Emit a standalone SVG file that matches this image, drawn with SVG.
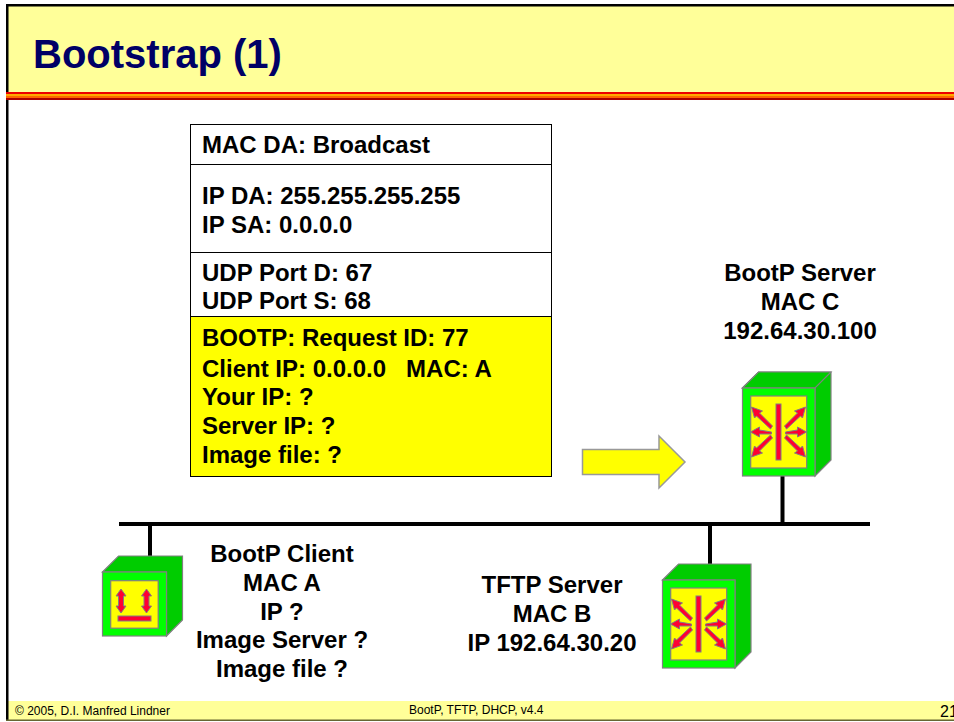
<svg xmlns="http://www.w3.org/2000/svg" width="954" height="722" viewBox="0 0 954 722">
<style>
text{font-family:"Liberation Sans",Arial,sans-serif}
.b{font-weight:bold;font-size:24px;fill:#000}
.m{text-anchor:middle}
.f{font-size:12px;fill:#000}
.s{stroke:#808080;stroke-width:1.2}
.w{fill:#00ff00}.t{fill:#00cc00}.i{fill:#ffff00}
.a{fill:#ff0033;stroke:#808080;stroke-width:1}
.c{stroke:#000;stroke-width:4;fill:none}
.r{fill:#fff;stroke:#000;stroke-width:1}
</style>
<defs>
<g id="burst">
<rect class="a" x="-2.5" y="-28" width="5" height="56"/>
<path id="arm" class="a" d="M7 0 L19 -2 L19 -5 L28 0 L19 5 L19 2 L7 2 Z"/>
<path class="a" d="M-7 0 L-19 -2 L-19 -5 L-28 0 L-19 5 L-19 2 L-7 2 Z"/>
<path class="a" d="M6 -6 L19 -19 L16 -21 L27 -25 L24 -14 L22 -16 L8 -3 Z"/>
<path class="a" d="M-6 -6 L-19 -19 L-16 -21 L-27 -25 L-24 -14 L-22 -16 L-8 -3 Z"/>
<path class="a" d="M6 6 L19 19 L16 21 L27 25 L24 14 L22 16 L8 3 Z"/>
<path class="a" d="M-6 6 L-19 19 L-16 21 L-27 25 L-24 14 L-22 16 L-8 3 Z"/>
</g>
</defs>
<rect width="954" height="722" fill="#fff"/>
<g id="slide-frame">
<rect x="6" y="5" width="948" height="88" fill="#ffff99"/>
<rect x="6" y="701" width="948" height="19" fill="#ffff99"/>
<rect x="6" y="4" width="948" height="2.5" fill="#000"/>
<rect x="6" y="4" width="2.5" height="716" fill="#000"/>
<rect x="6" y="719.5" width="948" height="1.5" fill="#666633"/>
<rect x="6" y="92" width="948" height="2" fill="#ee0000"/>
<rect x="6" y="94" width="948" height="2" fill="#ffaa00"/>
<rect x="6" y="96" width="948" height="2" fill="#ff6600"/>
<rect x="6" y="98" width="948" height="2" fill="#aa0000"/>
<text x="33" y="68" font-size="40" font-weight="bold" fill="#000066">Bootstrap (1)</text>
<text class="f" x="15" y="715">© 2005, D.I. Manfred Lindner</text>
<text class="f" x="409" y="714">BootP, TFTP, DHCP, v4.4</text>
<text x="940" y="717" font-size="16" fill="#000">21</text>
</g>
<g id="connectors">
<path class="c" d="M119 524H870"/>
<path class="c" d="M150 524V564"/>
<path class="c" d="M710 524V564"/>
<path class="c" d="M782.5 476V524"/>
</g>
<g id="frame-table">
<rect class="r" x="190.500" y="124.500" width="361" height="40"/>
<rect class="r" x="190.500" y="164.500" width="361" height="88"/>
<rect class="r" x="190.500" y="252.500" width="361" height="64"/>
<rect x="190.500" y="316.500" width="361" height="160" fill="#ffff00" stroke="#000"/>
<text class="b" x="202" y="153">MAC DA: Broadcast</text>
<text class="b" x="202" y="204">IP DA: 255.255.255.255</text>
<text class="b" x="202" y="233">IP SA: 0.0.0.0</text>
<text class="b" x="202" y="281">UDP Port D: 67</text>
<text class="b" x="202" y="309">UDP Port S: 68</text>
<text class="b" x="202" y="346">BOOTP: Request ID: 77</text>
<text class="b" x="202" y="377" xml:space="preserve">Client IP: 0.0.0.0   MAC: A</text>
<text class="b" x="202" y="405">Your IP: ?</text>
<text class="b" x="202" y="434">Server IP: ?</text>
<text class="b" x="202" y="463">Image file: ?</text>
</g>
<g id="direction-arrow">
<path d="M582.500 449.500H659V436L685 462L659 488V474.500H582.500Z" fill="#ffff00" stroke="#999" stroke-width="1.500"/>
</g>
<g id="bootp-server">
<path class="s t" d="M742.500 388L758.500 372H831V460L815 476V388Z"/>
<path class="s t" d="M742.500 388L758.500 372H831L815 388Z"/>
<rect class="s w" x="742.500" y="388" width="72.500" height="88"/>
<rect class="s i" x="750.700" y="396" width="56" height="72"/>
<use href="#burst" x="778.500" y="432"/>
<text class="b m" x="800" y="281">BootP Server</text>
<text class="b m" x="800" y="310">MAC C</text>
<text class="b m" x="800" y="339">192.64.30.100</text>
</g>
<g id="tftp-server">
<path class="s t" d="M662.500 580L678.500 564H751V652L735 668V580Z"/>
<rect class="s w" x="662.500" y="580" width="72.500" height="88"/>
<rect class="s i" x="670.700" y="588" width="56" height="72"/>
<use href="#burst" x="698.500" y="624"/>
<text class="b m" x="552" y="593">TFTP Server</text>
<text class="b m" x="552" y="622">MAC B</text>
<text class="b m" x="552" y="651">IP 192.64.30.20</text>
</g>
<g id="bootp-client">
<path class="s t" d="M102.500 572L118.500 556H182.500V620L166.500 636V572Z"/>
<rect class="s w" x="102.500" y="572" width="64" height="64"/>
<rect class="s i" x="110.700" y="580.700" width="47.500" height="47.500"/>
<path class="a" d="M121 589L126 596H123.500V606H126L121 613L116 606H118.500V596H116Z"/>
<path class="a" d="M146.500 589L151.500 596H149V606H151.500L146.500 613L141.500 606H144V596H141.500Z"/>
<rect class="a" x="118" y="616" width="33" height="5"/>
<text class="b m" x="282" y="562">BootP Client</text>
<text class="b m" x="282" y="591">MAC A</text>
<text class="b m" x="282" y="620">IP ?</text>
<text class="b m" x="282" y="648">Image Server ?</text>
<text class="b m" x="282" y="677">Image file ?</text>
</g>
</svg>
